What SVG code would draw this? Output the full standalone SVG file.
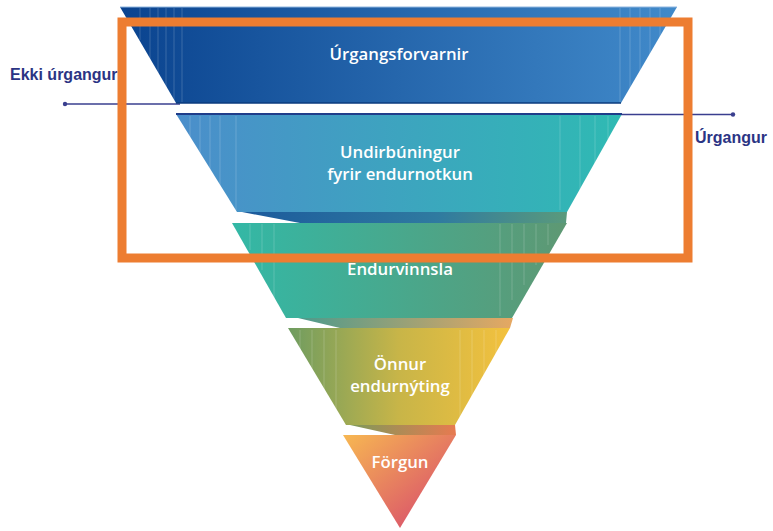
<svg xmlns="http://www.w3.org/2000/svg" width="773" height="531" viewBox="0 0 773 531">
<style>
.lbl{font-family:"Open Sans","Liberation Sans",sans-serif;font-weight:600;font-size:16.8px;fill:#ffffff;text-anchor:middle}
.side{font-family:"Liberation Sans","Open Sans",sans-serif;font-weight:700;font-size:16px;fill:#2b3484}
.conn{stroke:#3a3f8f;stroke-width:1.5;fill:none}
.dot{fill:#3a3f8f}
.stripe{stroke:#ffffff;stroke-opacity:0.18;stroke-width:1}
</style>
<defs>
<linearGradient id="g1" x1="0" y1="0" x2="1" y2="0"><stop offset="0" stop-color="#0a438f"/><stop offset="1" stop-color="#418aca"/></linearGradient>
<linearGradient id="g2" x1="0" y1="0" x2="1" y2="0"><stop offset="0" stop-color="#4b8ecb"/><stop offset="1" stop-color="#2fbab3"/></linearGradient>
<linearGradient id="g23" x1="0" y1="0" x2="1" y2="0"><stop offset="0" stop-color="#1c5a9c"/><stop offset="0.6" stop-color="#2f7aa0"/><stop offset="1" stop-color="#5a9a7c"/></linearGradient>
<linearGradient id="g3" x1="0" y1="0" x2="1" y2="0"><stop offset="0" stop-color="#33b8a6"/><stop offset="1" stop-color="#5e9873"/></linearGradient>
<linearGradient id="g34" x1="0" y1="0" x2="1" y2="0"><stop offset="0" stop-color="#4c9a8c"/><stop offset="1" stop-color="#e6a862"/></linearGradient>
<linearGradient id="g4" x1="0" y1="0" x2="1" y2="0"><stop offset="0" stop-color="#6e9c60"/><stop offset="0.5" stop-color="#c8b548"/><stop offset="1" stop-color="#f3c13e"/></linearGradient>
<linearGradient id="g45" x1="0" y1="0" x2="1" y2="0"><stop offset="0" stop-color="#7d9a5a"/><stop offset="1" stop-color="#e77a50"/></linearGradient>
<linearGradient id="g5" x1="0" y1="0" x2="1" y2="1"><stop offset="0" stop-color="#f7b852"/><stop offset="1" stop-color="#d5416f"/></linearGradient>
</defs>
<rect width="773" height="531" fill="#ffffff"/>
<g id="connectors">
<line class="conn" x1="65" y1="104" x2="180" y2="104"/>
<line class="conn" x1="180" y1="114.5" x2="733" y2="114.5"/>
<circle class="dot" cx="65" cy="104" r="2.2"/>
<circle class="dot" cx="733" cy="114.5" r="2.2"/>
</g>
<g id="n1">
<polygon points="120,7 677,7 621,103 176,103" fill="url(#g1)"/>
<line x1="120" y1="7" x2="677" y2="7" stroke="#8fb6e0" stroke-width="1"/>
<line x1="176" y1="103" x2="621" y2="103" stroke="#0b3b7e" stroke-width="1.5"/>
<path class="stripe" d="M140 8V40M150 8V60M158 8V75M166 8V90M174 8V102M182 8V102M620 8V102M630 8V95M640 8V80M650 8V60M660 8V40"/>
<text class="lbl" x="399" y="60">Úrgangsforvarnir</text>
</g>
<g id="n2">
<polygon points="176,114 622,114 567,212 237,212" fill="url(#g2)"/>
<line x1="176" y1="114" x2="622" y2="114" stroke="#1f3d8a" stroke-width="2"/>
<path class="stripe" d="M190 116V140M200 116V160M210 116V180M220 116V200M236 116V210M560 116V210M580 116V190M595 116V165M608 116V140"/>
<text class="lbl" x="400" y="158">Undirbúningur</text>
<text class="lbl" x="400" y="180">fyrir endurnotkun</text>
</g>
<g id="n3">
<polygon points="242,212 567,212 566,223 300,223" fill="url(#g23)"/>
<polygon points="232,223 567,223 512,318 286,318" fill="url(#g3)"/>
<path class="stripe" d="M250 224V250M262 224V270M274 224V300M500 224V316M512 224V300M524 224V285M536 224V265M548 224V245"/>
<text class="lbl" x="400" y="275">Endurvinnsla</text>
</g>
<g id="n4">
<polygon points="298,318 513,318 510,328 340,328" fill="url(#g34)"/>
<polygon points="288,328 510,328 455,425 346,425" fill="url(#g4)"/>
<path class="stripe" d="M300 330V350M312 330V372M324 330V395M336 330V418M460 330V420M472 330V400M484 330V378M496 330V355"/>
<text class="lbl" x="400" y="370">Önnur</text>
<text class="lbl" x="400" y="392">endurnýting</text>
</g>
<g id="n5">
<polygon points="350,425 455,425 456,435 395,435" fill="url(#g45)"/>
<polygon points="343,435 456,435 400,528" fill="url(#g5)"/>
<text class="lbl" x="400" y="468">Förgun</text>
</g>
<g id="labels">
<text class="side" x="10" y="80">Ekki úrgangur</text>
<text class="side" x="695" y="143">Úrgangur</text>
</g>
<g id="highlight">
<rect x="122" y="22" width="566" height="236" fill="none" stroke="#ed7d31" stroke-width="9"/>
</g>
</svg>
